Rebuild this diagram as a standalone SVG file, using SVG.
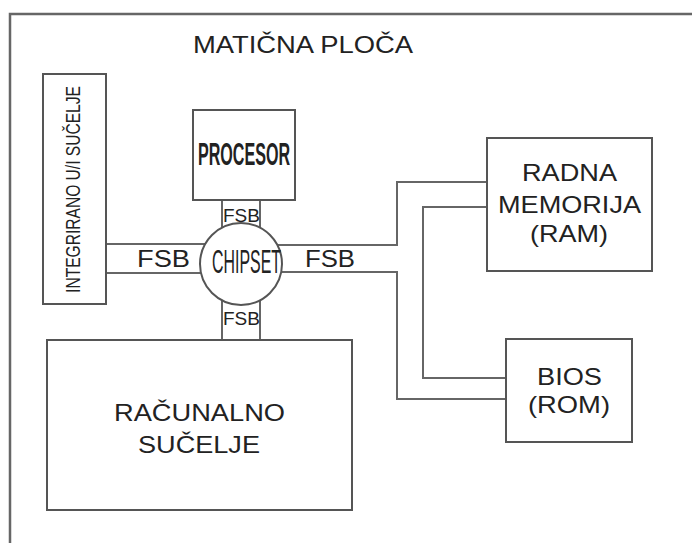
<svg xmlns="http://www.w3.org/2000/svg" width="692" height="543" viewBox="0 0 692 543">
<style>
.box{fill:#fff;stroke:#555;stroke-width:2}
.bus{fill:none;stroke:#666;stroke-width:2}
.frame{fill:none;stroke:#666;stroke-width:2.5}
.t{font-family:"Liberation Sans",Arial,sans-serif;fill:#222;font-size:24px}
.c{font-family:"Liberation Sans",Arial,sans-serif;fill:#222}
</style>
<rect width="692" height="543" fill="#fff"/>
<path class="frame" d="M10,543 V14 H692"/>
<text class="t" x="193" y="53" font-size="29" textLength="220" lengthAdjust="spacingAndGlyphs">MATIČNA PLOČA</text>
<g id="connectors">
<path class="bus" d="M222,200 V340 M260,200 V340"/>
<path class="bus" d="M106,244 H241 M106,273 H241"/>
<path class="bus" d="M241,245 H397 V182 H487"/>
<path class="bus" d="M241,272 H397 V399 H506"/>
<path class="bus" d="M487,207 H423 V378 H506"/>
<text class="t" x="137" y="267" font-size="23" textLength="53" lengthAdjust="spacingAndGlyphs">FSB</text>
<text class="t" x="305" y="267" font-size="23" textLength="50" lengthAdjust="spacingAndGlyphs">FSB</text>
<text class="c" x="223" y="222" font-size="19">FSB</text>
<text class="c" x="223" y="325" font-size="19">FSB</text>
</g>
<g id="integrirano">
<rect class="box" x="43" y="74" width="63" height="230"/>
<text class="c" transform="translate(80,189.5) rotate(-90) scale(0.742,1)" text-anchor="middle" font-size="21">INTEGRIRANO U/I SUČELJE</text>
</g>
<g id="procesor">
<rect class="box" x="193" y="110" width="102" height="90"/>
<text class="c" transform="translate(198,165) scale(0.503,1)" font-size="32" font-weight="bold">PROCESOR</text>
</g>
<g id="chipset">
<circle class="box" cx="241" cy="264" r="41"/>
<text class="c" transform="translate(212,273) scale(0.4825,1)" font-size="33">CHIPSET</text>
</g>
<g id="ram">
<rect class="box" x="487" y="138" width="165" height="133"/>
<text class="t" x="522" y="181" textLength="95" lengthAdjust="spacingAndGlyphs">RADNA</text>
<text class="t" x="498" y="213" textLength="143" lengthAdjust="spacingAndGlyphs">MEMORIJA</text>
<text class="t" x="530" y="242" textLength="78" lengthAdjust="spacingAndGlyphs">(RAM)</text>
</g>
<g id="bios">
<rect class="box" x="506" y="339" width="126" height="103"/>
<text class="t" x="537" y="385" textLength="65" lengthAdjust="spacingAndGlyphs">BIOS</text>
<text class="t" x="528" y="413" textLength="82" lengthAdjust="spacingAndGlyphs">(ROM)</text>
</g>
<g id="racunalno">
<rect class="box" x="47" y="340" width="305" height="170"/>
<text class="t" x="114" y="421" textLength="171" lengthAdjust="spacingAndGlyphs">RAČUNALNO</text>
<text class="t" x="138" y="453" textLength="122" lengthAdjust="spacingAndGlyphs">SUČELJE</text>
</g>
</svg>
